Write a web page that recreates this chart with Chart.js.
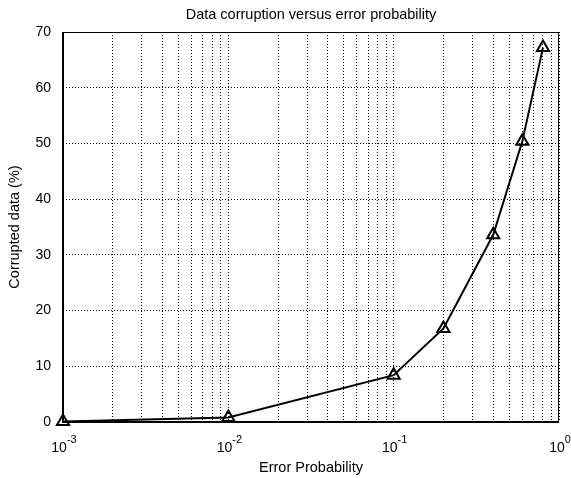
<!DOCTYPE html>
<html>
<head>
<meta charset="utf-8">
<script src="https://cdn.jsdelivr.net/npm/chart.js@4/dist/chart.umd.min.js"></script>
<style>
  html, body { margin: 0; padding: 0; background: #fff; }
  #wrap { width: 571px; height: 478px; position: relative; }
</style>
</head>
<body>
<div id="wrap"><canvas id="c" width="571" height="478"></canvas></div>
<script>
// ---- data ----
const errorProbability = [0.001, 0.01, 0.1, 0.2, 0.4, 0.6, 0.8];
const corruptedData = [0.08, 0.8, 8.4, 16.8, 33.6, 50.4, 67.2];
const xTickExponents = [-3, -2, -1, 0];
const yTickValues = [0, 10, 20, 30, 40, 50, 60, 70];
const chartTitle = 'Data corruption versus error probability';
const xAxisTitle = 'Error Probability';
const yAxisTitle = 'Corrupted data (%)';

const FONT = '"Liberation Sans", Arial, Helvetica, sans-serif';

// grid positions for log axis: 1..9 x 10^n
const logGridValues = [];
for (let i = 0; i < xTickExponents.length; i++) {
  const e = xTickExponents[i];
  if (i === xTickExponents.length - 1) { logGridValues.push(Math.pow(10, e)); break; }
  for (let m = 1; m <= 9; m++) logGridValues.push(m * Math.pow(10, e));
}

const framePlugin = {
  id: 'frame',
  afterLayout(chart) {
    // centre the title over the plot area
    const tb = chart.titleBlock;
    if (tb) {
      const w = tb.right - tb.left;
      const c = (chart.chartArea.left + chart.chartArea.right) / 2;
      tb.left = c - w / 2;
      tb.right = c + w / 2;
    }
  },
  afterDraw(chart) {
    const { ctx, chartArea: a, scales } = chart;
    ctx.save();
    ctx.setLineDash([]);
    ctx.strokeStyle = '#000';
    ctx.lineWidth = 1;
    ctx.strokeRect(a.left + 0.5, a.top + 0.5, a.right - a.left - 1, a.bottom - a.top);
    ctx.lineWidth = 2;
    ctx.beginPath();
    ctx.moveTo(a.left, a.top);
    ctx.lineTo(a.left, a.bottom);
    ctx.lineTo(a.right, a.bottom);
    ctx.stroke();
    // x tick labels: 10 with superscript exponent
    const xs = scales.x;
    ctx.fillStyle = '#000';
    ctx.textBaseline = 'alphabetic';
    xTickExponents.forEach(e => {
      const px = xs.getPixelForValue(Math.pow(10, e));
      const base = '10';
      const exp = String(e);
      ctx.font = '14px ' + FONT;
      const wb = ctx.measureText(base).width;
      ctx.font = '11px ' + FONT;
      const we = ctx.measureText(exp).width;
      const start = px - (wb + we) / 2 + 1;
      ctx.font = '14px ' + FONT;
      ctx.textAlign = 'left';
      ctx.fillText(base, start, a.bottom + 30);
      ctx.font = '11px ' + FONT;
      ctx.fillText(exp, start + wb, a.bottom + 21);
    });
    ctx.restore();
  }
};

const gridOpts = {
  color: '#000',
  lineWidth: 1,
  drawTicks: false
};
const borderOpts = { display: false, dash: [1, 2], dashOffset: 0 };

new Chart(document.getElementById('c'), {
  type: 'line',
  data: {
    datasets: [{
      data: errorProbability.map((x, i) => ({ x: x, y: corruptedData[i] })),
      borderColor: '#000',
      borderWidth: 2,
      backgroundColor: 'rgba(0,0,0,0)',
      pointStyle: 'triangle',
      pointRadius: 7,
      pointHoverRadius: 7,
      pointBorderWidth: 2,
      pointBorderColor: '#000',
      pointBackgroundColor: 'rgba(0,0,0,0)',
      tension: 0,
      clip: false
    }]
  },
  options: {
    responsive: false,
    animation: false,
    devicePixelRatio: 1,
    layout: { padding: { left: 0, right: 12, top: 0, bottom: 0 } },
    plugins: {
      legend: { display: false },
      tooltip: { enabled: false },
      title: {
        display: true,
        text: chartTitle,
        color: '#000',
        font: { family: FONT, size: 14.5, weight: 'normal', lineHeight: 1.2 },
        padding: { top: 6.3, bottom: 8.3 }
      }
    },
    scales: {
      x: {
        type: 'logarithmic',
        min: 0.001,
        max: 1,
        afterBuildTicks(scale) {
          scale.ticks = logGridValues.map(v => ({ value: v }));
        },
        afterFit(scale) { scale.height = 56; },
        ticks: {
          color: 'rgba(0,0,0,0)',
          autoSkip: false,
          maxRotation: 0,
          callback: () => ''
        },
        grid: gridOpts,
        border: borderOpts,
        title: {
          display: true,
          text: xAxisTitle,
          color: '#000',
          font: { family: FONT, size: 14.5, lineHeight: 1.2 },
          padding: { top: 0, bottom: 1.5 }
        }
      },
      y: {
        min: 0,
        max: 70,
        afterBuildTicks(scale) {
          scale.ticks = yTickValues.map(v => ({ value: v }));
        },
        afterFit(scale) { scale.width = 63; },
        ticks: {
          color: '#000',
          font: { family: FONT, size: 14 },
          padding: 12
        },
        grid: gridOpts,
        border: borderOpts,
        title: {
          display: true,
          text: yAxisTitle,
          color: '#000',
          font: { family: FONT, size: 14.5, lineHeight: 1.2 },
          padding: { top: 6, bottom: 0 }
        }
      }
    }
  },
  plugins: [framePlugin]
});
</script>
</body>
</html>
